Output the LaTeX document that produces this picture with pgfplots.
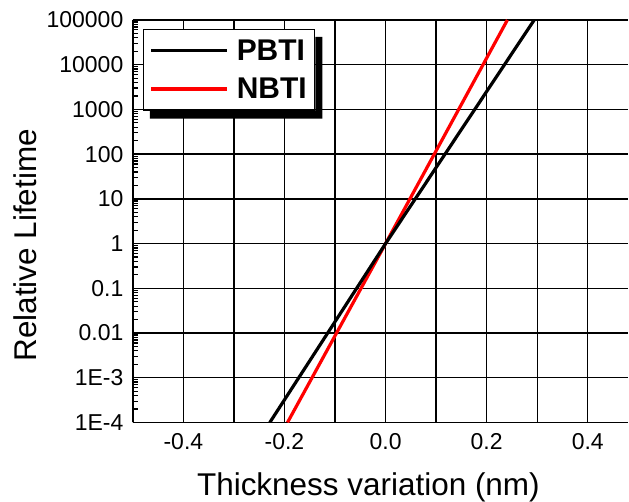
\documentclass[border=0pt]{standalone}
\usepackage{fontspec}
\setmainfont{Liberation Sans}
\usepackage{pgfplots}
\pgfplotsset{compat=1.18}

\begin{document}
\begin{tikzpicture}
  \begin{axis}[
      name=ax,
      scale only axis,
      width=496pt,
      height=403pt,
      xmin=-0.5, xmax=0.48,
      ymode=log,
      ymin=1e-4, ymax=1e5,
      axis y line*=left,
      xtick={-0.5,-0.4,-0.3,-0.2,-0.1,0,0.1,0.2,0.3,0.4},
      xticklabels={,-0.4,,-0.2,,0.0,,0.2,,0.4},
      ytick={1e-4,1e-3,1e-2,1e-1,1,10,100,1000,10000,100000},
      yticklabels={1E-4,1E-3,0.01,0.1,1,10,100,1000,10000,100000},
      tick label style={font=\fontsize{23}{23}\selectfont},
      xticklabel style={yshift=-7pt},
      yticklabel style={xshift=-6pt},
      tick align=inside,
      major tick length=8pt,
      minor tick length=5pt,
      minor x tick num=0,
      grid=major,
      major grid style={draw=black, line width=1.3pt},
      axis line style={line width=1.6pt},
      every tick/.style={black, line width=1.2pt},
      xlabel={Thickness variation (nm)},
      ylabel={Relative Lifetime},
      xlabel style={font=\fontsize{31.5}{31.5}\selectfont, inner sep=0pt,
        at={(axis cs:-0.034,1e-4)}, anchor=north, yshift=-50pt},
      ylabel style={font=\fontsize{31.5}{31.5}\selectfont,
        at={(rel axis cs:0,0.44)}, anchor=south, yshift=93pt},
      legend style={
        name=leg,
        at={(rel axis cs:0,1)}, anchor=north west,
        xshift=10pt, yshift=-9pt,
        draw=black, line width=1.5pt, fill=white,
        font=\fontsize{30}{30}\selectfont\bfseries,
        inner xsep=6pt, inner ysep=8pt,
        row sep=12pt,
      },
      legend cell align=left,
      legend image code/.code={
        \draw[#1, line width=3.4pt] (0pt,0pt) -- (76pt,0pt);
        \path (82pt,0pt);},
      reverse legend,
    ]
    \addplot[color=red, line width=3.2pt] coordinates {
      (-0.194,1e-4) (0,1) (0.241,1e5)
    };
    \addlegendentry{NBTI}
    \addplot[color=black, line width=3.2pt] coordinates {
      (-0.229,1e-4) (0,1) (0.294,1e5)
    };
    \addlegendentry{PBTI}
  \end{axis}
  % legend shadow, outside the legend box
  \fill[black] ([yshift=-8pt]leg.north east) -- ([xshift=7pt,yshift=-8pt]leg.north east)
    -- ([xshift=7pt,yshift=-8pt]leg.south east) -- ([xshift=7pt,yshift=-8pt]leg.south west)
    -- ([xshift=7pt]leg.south west) -- (leg.south east) -- cycle;
  \path (ax.north west) ++(-133pt,20pt);
  \path (ax.south west) ++(-133pt,-79pt);
\end{tikzpicture}
\end{document}
